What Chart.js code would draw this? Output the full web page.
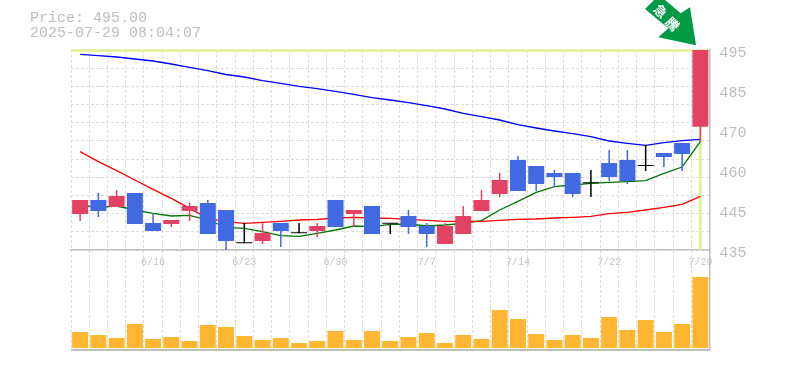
<!DOCTYPE html>
<html>
<head>
<meta charset="utf-8">
<style>
  body { margin: 0; background: #fff; }
  canvas { display: block; }
</style>
<script src="https://cdn.jsdelivr.net/npm/chart.js@4"></script>
</head>
<body>
<canvas id="canvas" width="785" height="370"></canvas>
<script>
const dates = ["6/10","6/11","6/12","6/13","6/16","6/17","6/18","6/19","6/20","6/23","6/24","6/25","6/26","6/27","6/30","7/1","7/2","7/3","7/4","7/7","7/8","7/9","7/10","7/11","7/14","7/15","7/16","7/17","7/18","7/22","7/23","7/24","7/25","7/28","7/29"];
const shownDates = ["6/16","6/23","6/30","7/7","7/14","7/22","7/29"];

const open  = [445.8,450,447.9,452.1,443.1,442.8,446.7,449.1,447,437,437.7,443.1,440,440.7,450,445.8,448.2,442.9,445.2,442.2,436.8,439.8,446.7,451.8,462,460.2,458.1,458.1,455,461.1,462,460.2,464.1,467.1,472];
const close = [450,446.7,451.2,442.8,440.7,444,448.2,439.8,437.7,437,440.1,440.7,440,442.2,441.9,447,439.8,442.9,441.9,439.8,442.2,445.2,450,456,452.7,454.8,456.9,451.8,455,456.9,455.7,460.2,462.9,463.8,495];
const high  = [450,452.1,453,452.1,446.1,444,449.1,450,447,443.1,443.1,443.1,443.1,443.1,450,447,448.2,442.9,447,443.1,443.1,448.2,453,458.1,463.2,460.2,459,458.1,459,465,465,466.5,464.1,467.1,495];
const low   = [443.7,444.9,447.9,442.8,440.7,441.9,443.7,439.8,435,437,436.8,435.9,440,438.9,441.9,441.9,439.8,439.8,439.8,435.9,436.8,439.8,446.7,450.9,452.7,452.7,453.9,450.9,450.9,455.7,454.8,458.7,459.9,458.7,467.5];

const maShort = [448.5,447.8,448.2,447,446,445.2,445.4,444,441.8,441.5,440.5,439.3,439.1,440,441,442.2,442,442.7,442.8,442.2,442.5,443,443.8,447,449.6,452.3,454,454.5,455,455.3,455.5,455.8,458,459.9,467.5];
const maMid   = [464.5,461.5,458.8,456,453.2,450.5,447.5,444.5,443.5,443,443.3,443.6,444,444.2,444.6,444.8,444.6,444.5,444.2,443.9,443.6,443.6,443.6,443.9,444.2,444.3,444.6,444.8,445.1,445.9,446.3,447,447.8,448.7,451.1];
const maLong  = [493.7,493.3,492.9,492.3,491.7,490.8,489.8,488.8,487.65,486.9,485.8,485,484.1,483.4,482.6,481.7,480.7,480,479.2,478.3,477.3,476,475,474,472.6,471.6,470.7,469.9,469,467.7,467,466.4,467.2,467.8,468.2];

const volume = [16,13,10,24,9,11,7,23,21,12,8,10,5,7,17,8,17,7,11,15,5,13,9,38,29,14,8,13,10,31,18,28,16,24,71];

const priceTickValues = [495,483,471,459,447,435];
const priceTickLabels = ["495","485","470","460","445","435"];
const lastPrice = 495;
const headerLines = ["Price: 495.00", "2025-07-29 08:04:07"];
const badgeText = ["急", "騰"];

const UP = "#e24263", DOWN = "#4169e1", FLAT = "#000000";
const GRID = "#dddddd", FRAME = "#c0c0c0", HILITE = "#e2f2a2";
const GRID_DIVS = 11;

function candleColor(i) {
    if (open[i] === close[i]) return FLAT;
    return close[i] > open[i] ? UP : DOWN;
}
const colors = dates.map((d, i) => candleColor(i));

// right-hand price ticks: 11 dashed rows plus 5 label steps, they don't coincide
function buildPriceTicks(scale) {
    const vals = priceTickValues.slice();
    const step = (scale.max - scale.min) / GRID_DIVS;
    for (let i = 1; i < GRID_DIVS; i++) vals.push(scale.min + i * step);
    scale.ticks = vals.sort((a, b) => a - b).map(v => ({ value: v }));
}

function isGridRow(value) {
    const n = (value - 435) / (60 / GRID_DIVS);
    return Math.abs(n - Math.round(n)) < 1e-6;
}

const headerAndBadge = {
    id: "headerAndBadge",
    afterDraw(chart) {
        const c = chart.ctx;
        c.save();
        c.fillStyle = "#bdbdbd";
        c.font = "15px 'Liberation Mono'";
        c.textBaseline = "middle";
        c.fillText(headerLines[0], 30, 18);
        c.fillText(headerLines[1], 30, 33);

        // the green arrow badge
        const pts = [[645,9],[654,0],[665,0],[680.7,13.3],[690,7.3],[696,45.3],[658.3,37.3],[668.3,28.3]];
        c.beginPath();
        pts.forEach((p, i) => i ? c.lineTo(p[0], p[1]) : c.moveTo(p[0], p[1]));
        c.closePath();
        c.fillStyle = "#009944";
        c.fill();
        c.fillStyle = "#fff";
        c.font = "bold 13px 'Noto Sans CJK JP'";
        c.textAlign = "center";
        [[660.5, 11], [672.5, 24]].forEach((p, i) => {
            c.save();
            c.translate(p[0], p[1]);
            c.rotate(Math.PI / 4);
            c.fillText(badgeText[i], 0, 0);
            c.restore();
        });
        c.restore();
    }
};

new Chart(document.getElementById("canvas"), {
    data: {
        labels: dates,
        datasets: [
            {
                type: "bar", yAxisID: "vol", order: 1, data: volume,
                backgroundColor: "#ffb733", barThickness: 16, inflateAmount: 0
            },
            {
                type: "bar", yAxisID: "price", order: 40,
                data: dates.map((d, i) => i === dates.length - 1 ? [435, lastPrice] : null),
                backgroundColor: HILITE, barThickness: 3, inflateAmount: 0
            },
            {
                type: "bar", yAxisID: "price", order: 2,
                data: open.map((v, i) => [v, close[i]]),
                backgroundColor: colors, barThickness: 16, minBarLength: 1, inflateAmount: 0
            },
            {
                type: "bar", yAxisID: "price", order: 3,
                data: low.map((v, i) => [v, high[i]]),
                backgroundColor: colors, barThickness: 1.5, inflateAmount: 0
            },
            { type: "line", yAxisID: "price", order: 10, data: maMid, borderColor: "#ff0000", borderWidth: 1.3, pointRadius: 0, tension: 0 },
            { type: "line", yAxisID: "price", order: 11, data: maShort, borderColor: "#007700", borderWidth: 1.3, pointRadius: 0, tension: 0 },
            { type: "line", yAxisID: "price", order: 12, data: maLong, borderColor: "#0000ff", borderWidth: 1.3, pointRadius: 0, tension: 0 }
        ]
    },
    options: {
        responsive: false,
        animation: false,
        layout: { padding: { left: 71, right: 0, top: 50, bottom: 20 } },
        plugins: { legend: { display: false }, tooltip: { enabled: false } },
        datasets: { bar: { grouped: false } },
        scales: {
            x: {
                position: { price: 435 },
                offset: true,
                grid: { offset: true, color: GRID, lineWidth: 1, drawTicks: false },
                border: { display: true, color: FRAME, width: 1.5, dash: [3, 2] },
                ticks: {
                    autoSkip: false, maxRotation: 0, padding: 6, color: "#c4c4c4",
                    font: { family: "'Liberation Mono'", size: 10 },
                    callback(v) {
                        const label = this.getLabelForValue(v);
                        return shownDates.includes(label) ? label : "";
                    }
                }
            },
            price: {
                type: "linear", position: "right", stack: "panes", stackWeight: 2, weight: 1,
                min: 435, max: 495,
                afterBuildTicks: buildPriceTicks,
                afterFit(s) { s.width = 75.5; },
                grid: {
                    drawTicks: false,
                    color(ctx) {
                        if (ctx.tick.value === lastPrice) return HILITE;
                        return isGridRow(ctx.tick.value) ? GRID : "rgba(0,0,0,0)";
                    },
                    lineWidth(ctx) { return ctx.tick.value === lastPrice ? 3 : 1; }
                },
                border: {
                    display: true, color: FRAME, width: 1.5,
                    dash(ctx) { return ctx.tick && ctx.tick.value === lastPrice ? [] : [3, 2]; }
                },
                ticks: {
                    autoSkip: false, padding: 10, labelOffset: 3, color: "#bdbdbd",
                    font: { family: "'Liberation Mono'", size: 15 },
                    callback(v) {
                        const i = priceTickValues.indexOf(v);
                        return i < 0 ? "" : priceTickLabels[i];
                    }
                }
            },
            vol: {
                type: "linear", position: "right", stack: "panes", stackWeight: 1, weight: 2,
                min: -2, max: 98,
                afterBuildTicks(scale) { scale.ticks = [{ value: -2 }]; },
                afterFit(s) { s.width = 75.5; },
                grid: { drawTicks: false, color: FRAME, lineWidth: 2 },
                border: { display: true, color: FRAME, width: 1.5 },
                ticks: { display: false }
            }
        }
    },
    plugins: [headerAndBadge]
});
</script>
</body>
</html>
